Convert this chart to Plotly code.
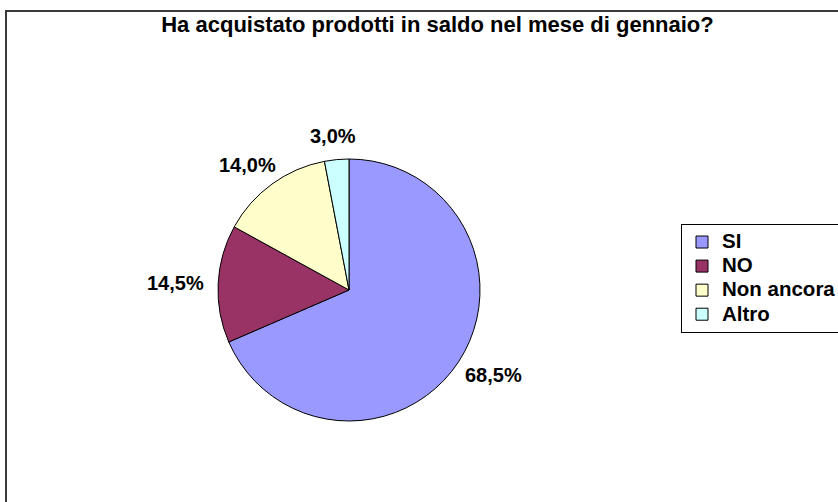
import math
import plotly.graph_objects as go

title_text = "Ha acquistato prodotti in saldo nel mese di gennaio?"
categories = ["SI", "NO", "Non ancora", "Altro"]
values = [68.5, 14.5, 14.0, 3.0]
colors = ["#9999FF", "#993366", "#FFFFCC", "#CCFFFF"]
value_labels = [f"{v:.1f}%".replace(".", ",") for v in values]

W, H = 870, 502          # figure wider than the 838 window: legend runs off the right edge
FONT = "Liberation Sans, Arial, sans-serif"
LABEL_SIZE = 20
LEGEND_TEXT = 20.5

# pie geometry in pixels
cx, cy, r = 349, 290, 131

# legend entries: line spacing driven by a smaller base font, text shown at full size
legend_names = [f'<span style="font-size:{LEGEND_TEXT}px">{c}</span>' for c in categories]

fig = go.Figure(
    go.Pie(
        labels=legend_names,
        values=values,
        textinfo="none",
        sort=False,
        direction="clockwise",
        rotation=0,
        marker=dict(colors=colors, line=dict(color="#000000", width=1)),
        hovertemplate="%{text}<extra></extra>",
        text=value_labels,
        domain=dict(
            x=[(cx - r) / W, (cx + r) / W],
            y=[1 - (cy + r) / H, 1 - (cy - r) / H],
        ),
    )
)

# outside data labels, placed from the slice mid-angles
char_w = {",": 0.278, "%": 0.889}
total = sum(values)
cum = 0.0
annotations = []
for v, lab in zip(values, value_labels):
    mid = (cum + v / 2) / total * 2 * math.pi
    cum += v
    dx, dy = math.sin(mid), -math.cos(mid)
    w = sum(char_w.get(ch, 0.556) for ch in lab) * LABEL_SIZE
    h = LABEL_SIZE
    gap = 14
    px = cx + dx * (r + gap) + dx * w / 2
    py = cy + dy * (r + gap) + dy * h / 2
    annotations.append(
        dict(
            x=px / W, y=1 - py / H, xref="paper", yref="paper",
            text=lab, showarrow=False, xanchor="center", yanchor="middle",
            font=dict(family=FONT, size=LABEL_SIZE, color="#000000", weight="bold"),
        )
    )

fig.update_layout(
    width=W,
    height=H,
    margin=dict(l=0, r=0, t=0, b=0, autoexpand=False),
    paper_bgcolor="#FFFFFF",
    plot_bgcolor="#FFFFFF",
    font=dict(family=FONT, color="#000000"),
    title=dict(
        text=title_text,
        x=437.5 / W,
        xanchor="center",
        y=1 - 24 / H,
        yanchor="middle",
        font=dict(family=FONT, size=22, color="#000000", weight="bold"),
    ),
    showlegend=True,
    legend=dict(
        x=681 / W,
        xanchor="left",
        y=1 - 224 / H,
        yanchor="top",
        bgcolor="#FFFFFF",
        bordercolor="#000000",
        borderwidth=1,
        font=dict(family=FONT, size=16.2, color="#000000", weight="bold"),
        traceorder="normal",
    ),
    annotations=annotations,
    shapes=[
        dict(
            type="rect",
            xref="paper",
            yref="paper",
            x0=6 / W,
            x1=1.2,
            y0=-0.2,
            y1=1 - 11 / H,
            line=dict(color="#3A3A3A", width=2),
            fillcolor="rgba(0,0,0,0)",
            layer="below",
        )
    ],
)

fig.write_html(
    "out.html",
    config={"displayModeBar": False},
    post_script="document.body.style.margin='0';",
)
